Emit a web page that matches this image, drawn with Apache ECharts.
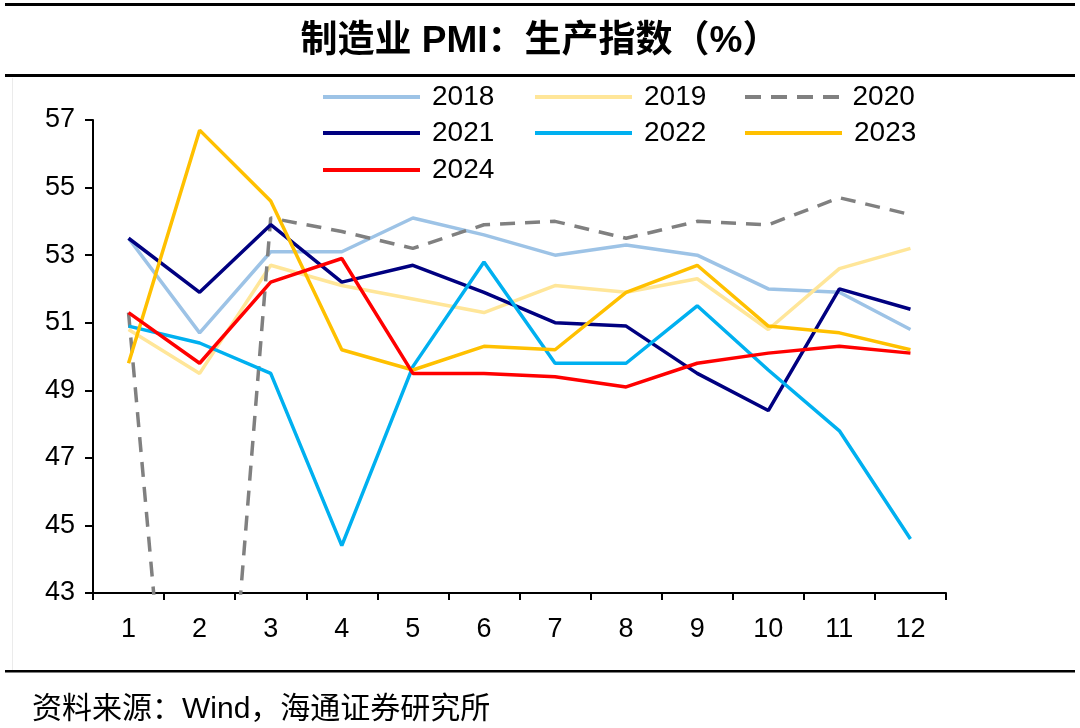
<!DOCTYPE html>
<html>
<head>
<meta charset="utf-8">
<script src="https://cdn.jsdelivr.net/npm/echarts@6/dist/echarts.min.js"></script>
<style>
html,body{margin:0;padding:0;background:#fff;}
#c{width:1080px;height:728px;}
</style>
</head>
<body>
<div id="c"></div>
<script>
var months = ['1','2','3','4','5','6','7','8','9','10','11','12'];
var yearNames = ['2018','2019','2020','2021','2022','2023','2024'];
var v2018 = [53.5, 50.7, 53.1, 53.1, 54.1, 53.6, 53.0, 53.3, 53.0, 52.0, 51.9, 50.8];
var v2019 = [50.8, 49.5, 52.7, 52.1, 51.7, 51.3, 52.1, 51.9, 52.3, 50.8, 52.6, 53.2];
var v2020 = [51.3, 27.8, 54.1, 53.7, 53.2, 53.9, 54.0, 53.5, 54.0, 53.9, 54.7, 54.2];
var v2021 = [53.5, 51.9, 53.9, 52.2, 52.7, 51.9, 51.0, 50.9, 49.5, 48.4, 52.0, 51.4];
var v2022 = [50.9, 50.4, 49.5, 44.4, 49.7, 52.8, 49.8, 49.8, 51.5, 49.6, 47.8, 44.6];
var v2023 = [49.8, 56.7, 54.6, 50.2, 49.6, 50.3, 50.2, 51.9, 52.7, 50.9, 50.7, 50.2];
var v2024 = [51.3, 49.8, 52.2, 52.9, 49.5, 49.5, 49.4, 49.1, 49.8, 50.1, 50.3, 50.1];
var yTicks = [43, 45, 47, 49, 51, 53, 55, 57];
var titleText = '制造业 PMI：生产指数（%）';
var sourceText = '资料来源：Wind，海通证券研究所';

var allValues = [v2018, v2019, v2020, v2021, v2022, v2023, v2024];
var colors = ['#9DC3E6', '#FFE699', '#808080', '#000080', '#00B0F0', '#FFC000', '#FF0000'];
var font = '"Liberation Sans", Arial, "Noto Sans CJK SC", sans-serif';
var dashIcon = 'path://M0,0h16v4h-16z M26,0h16v4h-16z M52,0h16v4h-16z M78,0h16v4h-16z';

var series = yearNames.map(function (name, i) {
  return {
    name: name,
    type: 'line',
    data: allValues[i],
    symbol: 'none',
    showSymbol: false,
    clip: true,
    lineStyle: {
      color: colors[i],
      width: 3.5,
      type: name === '2020' ? [15, 10] : 'solid'
    },
    itemStyle: { color: colors[i] },
    emphasis: { disabled: true }
  };
});

// legend positions (3 columns x 3 rows)
var legPos = [
  [323, 83], [535, 83], [745, 83],
  [323, 119], [535, 119], [745, 119],
  [323, 156]
];
var legends = yearNames.map(function (name, i) {
  return {
    data: [{ name: name, icon: name === '2020' ? dashIcon : 'rect' }],
    left: legPos[i][0],
    top: legPos[i][1],
    orient: 'horizontal',
    itemWidth: 97,
    itemHeight: 4,
    padding: 0,
    selectedMode: false,
    itemStyle: { color: colors[i], borderWidth: 0 },
    textStyle: { fontSize: 28, color: '#000', fontFamily: font, padding: [0, 0, 0, 7] }
  };
});

var chart = echarts.init(document.getElementById('c'), null, { renderer: 'canvas' });
chart.setOption({
  backgroundColor: '#fff',
  animation: false,
  grid: { left: 93, right: 134, top: 120, bottom: 135, containLabel: false },
  legend: legends,
  xAxis: {
    type: 'category',
    data: months,
    boundaryGap: true,
    axisLine: { show: true, lineStyle: { color: '#000', width: 2 } },
    axisTick: { show: true, inside: false, length: 7, lineStyle: { color: '#000', width: 2 } },
    axisLabel: { fontSize: 27, color: '#000', fontFamily: font, margin: 23 },
    splitLine: { show: false }
  },
  yAxis: {
    type: 'value',
    min: yTicks[0],
    max: yTicks[yTicks.length - 1],
    interval: 2,
    axisLine: { show: true, lineStyle: { color: '#000', width: 2 } },
    axisTick: { show: true, inside: false, length: 8, lineStyle: { color: '#000', width: 2 } },
    axisLabel: { fontSize: 27, color: '#000', fontFamily: font, margin: 18 },
    splitLine: { show: false }
  },
  series: series,
  graphic: [
    { type: 'rect', shape: { x: 5, y: 3, width: 1070, height: 3 }, style: { fill: '#000' } },
    { type: 'rect', shape: { x: 5, y: 74, width: 1070, height: 3 }, style: { fill: '#000' } },
    { type: 'rect', shape: { x: 5, y: 670, width: 1070, height: 2.5 }, style: { fill: '#000' } },
    { type: 'rect', shape: { x: 12, y: 78, width: 1, height: 592 }, style: { fill: '#EBEBEB' } },
    {
      type: 'text', left: 'center', top: 23,
      style: { text: titleText, fontSize: 37, fontWeight: 'bold', fill: '#000', fontFamily: font }
    },
    {
      type: 'text', left: 32, top: 695,
      style: { text: sourceText, fontSize: 30, fill: '#000', fontFamily: font }
    }
  ]
});
</script>
</body>
</html>
